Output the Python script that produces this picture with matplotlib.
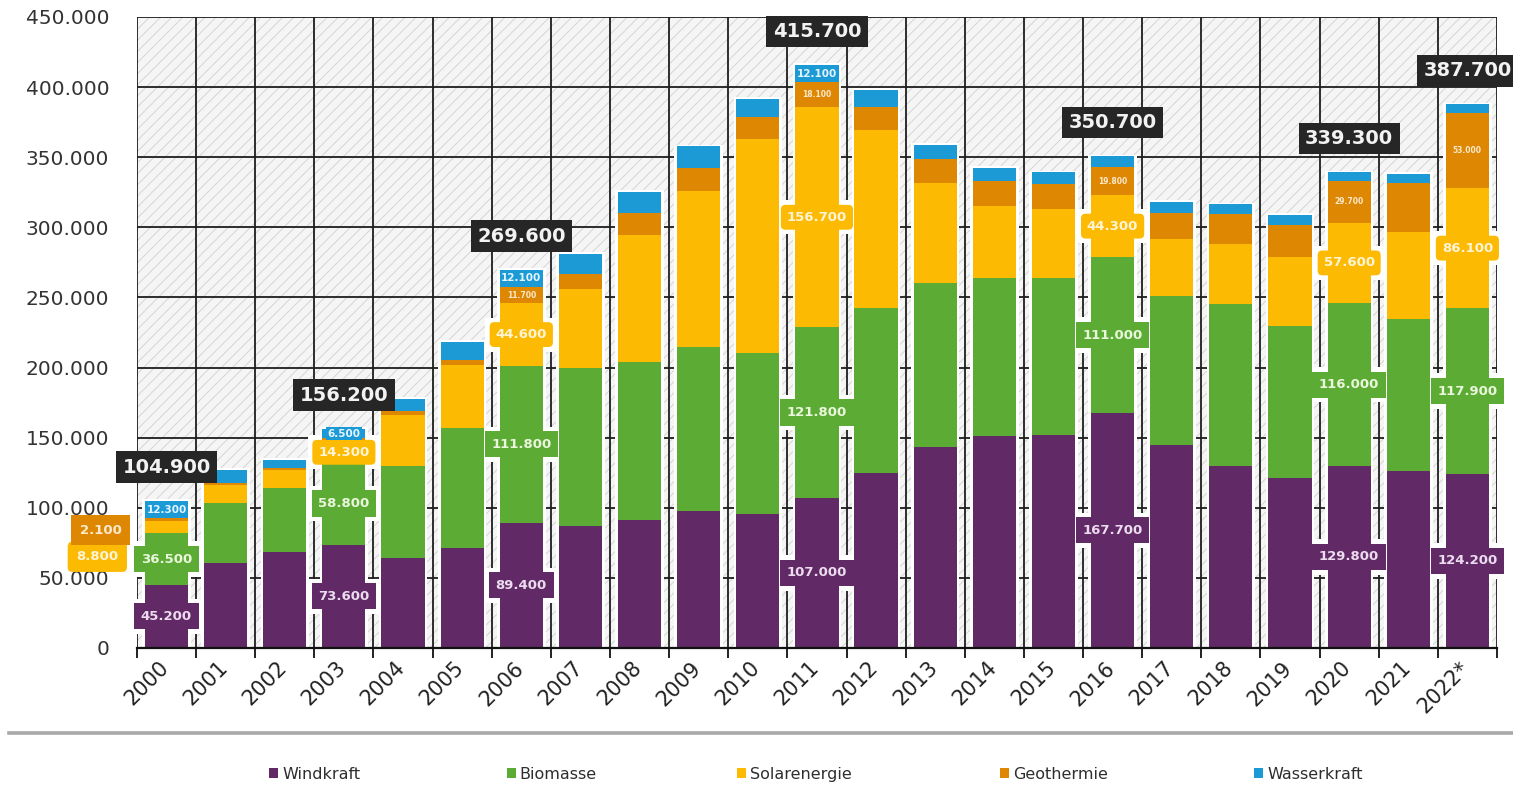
import numpy as np
import matplotlib
matplotlib.use("Agg")
import matplotlib.pyplot as plt
from matplotlib.patches import Patch, Rectangle
from matplotlib.lines import Line2D
from matplotlib.transforms import ScaledTranslation

# Beschäftigte im Bereich erneuerbare Energien, nach Sparten
years = ["2000", "2001", "2002", "2003", "2004", "2005", "2006", "2007", "2008",
         "2009", "2010", "2011", "2012", "2013", "2014", "2015", "2016", "2017",
         "2018", "2019", "2020", "2021", "2022*"]

windkraft = [45200, 60500, 68800, 73600, 64100, 71200, 89400, 86700, 91100,
             97800, 95600, 107000, 125100, 143400, 150900, 152100, 167700, 145000,
             129500, 121200, 129800, 125900, 124200]
biomasse = [36500, 42900, 45300, 58800, 65400, 85700, 111800, 113100, 112800,
            116800, 115000, 121800, 117700, 116800, 113200, 112000, 111000, 105900,
            115500, 108300, 116000, 108400, 117900]
solarenergie = [8800, 12800, 13000, 14300, 36500, 45200, 44600, 55900, 90500,
                111400, 152500, 156700, 126700, 71200, 51100, 48800, 44300, 41000,
                43300, 49600, 57600, 62300, 86100]
geothermie = [2100, 1600, 1500, 3000, 2800, 3600, 11700, 10700, 15500,
              16100, 15300, 18100, 16100, 17500, 17900, 17800, 19800, 18600,
              21000, 22300, 29700, 35300, 53000]
wasserkraft = [12300, 9100, 5700, 6500, 8800, 12400, 12100, 14800, 15600,
               15600, 13400, 12100, 12400, 9900, 9500, 8400, 7900, 7600,
               7100, 7400, 6200, 6000, 6500]

series_names = ["Windkraft", "Biomasse", "Solarenergie", "Geothermie", "Wasserkraft"]
series_values = [windkraft, biomasse, solarenergie, geothermie, wasserkraft]
series_colors = ["#612a66", "#5cab34", "#fcba03", "#de8702", "#1b9ad6"]
label_text_colors = ["#ecdcef", "#eaf7dc", "#fff5d6", "#fde9cc", "#e6f5ff"]

# Years whose segments carry value labels (series indices) and a total box
labelled_segments = {
    0: [0, 1, 2, 3, 4],
    3: [0, 1, 2, 4],
    6: [0, 1, 2, 3, 4],
    11: [0, 1, 2, 3, 4],
    16: [0, 1, 2, 3],
    20: [0, 1, 2, 3],
    22: [0, 1, 2, 3],
}
total_years = [0, 3, 6, 11, 16, 20, 22]

y_ticks = np.arange(0, 450001, 50000)


def de_format(v):
    return f"{int(round(v)):,}".replace(",", ".")


plt.rcParams["font.family"] = ["DejaVu Sans"]
plt.rcParams["hatch.linewidth"] = 0.6
plt.rcParams["hatch.color"] = "#cfcfcf"

fig = plt.figure(figsize=(15.13, 7.86), dpi=100)
ax = fig.add_axes([0.0905, 0.1756, 0.8989, 0.8028])

n = len(years)
x = np.arange(n)
bar_w = 0.73
values = np.array(series_values, dtype=float)
totals = values.sum(axis=0)
bottoms = np.vstack([np.zeros(n), np.cumsum(values, axis=0)[:-1]])

ax.set_xlim(-0.5, n - 0.5)
ax.set_ylim(0, 450000)

# hatched background
ax.set_facecolor("#f5f5f5")
ax.add_patch(Rectangle((0, 0), 1, 1, transform=ax.transAxes, facecolor="none",
                       hatch="///", edgecolor="#d0d0d0", lw=0, zorder=0.1))

# grid
ax.set_axisbelow(True)
ax.set_yticks(y_ticks)
ax.set_yticklabels([de_format(v) for v in y_ticks])
ax.set_xticks(x)
ax.set_xticklabels(years)
ax.set_xticks(np.arange(-0.5, n, 1), minor=True)
ax.grid(axis="y", which="major", color="#1e1e1e", lw=1.3)
ax.grid(axis="x", which="minor", color="#1e1e1e", lw=1.3)
ax.grid(axis="x", which="major", visible=False)

for s in ["left", "right", "top"]:
    ax.spines[s].set_visible(False)
ax.spines["bottom"].set_color("#111111")
ax.spines["bottom"].set_linewidth(1.6)

ax.tick_params(axis="y", length=0, pad=20, labelsize=14.5, labelcolor="#333333")
ax.tick_params(axis="x", which="major", length=0, pad=7, labelsize=15,
               labelcolor="#222222")
ax.tick_params(axis="x", which="minor", length=7, width=1.3, color="#111111",
               direction="out")
shift = ScaledTranslation(-8 / 100, 0, fig.dpi_scale_trans)
for lbl in ax.get_xticklabels():
    lbl.set_rotation(45)
    lbl.set_ha("right")
    lbl.set_va("top")
    lbl.set_rotation_mode("anchor")
    lbl.set_transform(lbl.get_transform() + shift)

# white halo behind each stacked bar
ax.bar(x, totals + 1200, width=bar_w + 0.09, color="white", zorder=1.5, lw=0)

# stacked segments
for i, (name, col) in enumerate(zip(series_names, series_colors)):
    ax.bar(x, values[i], bottom=bottoms[i], width=bar_w, color=col, lw=0,
           zorder=2, label=name)

# segment value labels
label_size = [9.5, 9.5, 9.5, 5.5, 7.5]
box_pad = [0.5, 0.5, 0.45, 0.25, 0.15]
for yi, segs in labelled_segments.items():
    for si in segs:
        v = values[si, yi]
        xc = x[yi]
        yc = bottoms[si, yi] + v / 2
        outside = False
        if yi == 0 and si == 2:
            xc, yc, outside = -1.17, 65000, True
        if yi == 0 and si == 3:
            xc, yc, outside = -1.11, 84000, True
        fs = label_size[si]
        pad = box_pad[si]
        if outside:
            fs, pad = 9.5, 0.65
        shape = "round,pad=%.2f,rounding_size=0.35" if si == 2 else "square,pad=%.2f"
        if si in (0, 1, 2) and not outside:
            # white clearing behind the label, hidden where the bar covers it
            ax.text(xc, yc, de_format(v), ha="center", va="center", fontsize=fs,
                    fontweight="bold", color=(0, 0, 0, 0), zorder=1.7,
                    bbox=dict(boxstyle="square,pad=%.2f" % (pad + 0.35),
                              facecolor="white", edgecolor="none"))
        ax.text(xc, yc, de_format(v), ha="center", va="center", fontsize=fs,
                fontweight="bold", color=label_text_colors[si], zorder=4,
                bbox=dict(boxstyle=shape % pad, facecolor=series_colors[si],
                          edgecolor="none"))

# total boxes
for yi in total_years:
    ax.text(x[yi], totals[yi] + 24000, de_format(totals[yi]), ha="center",
            va="center", fontsize=14, fontweight="bold", color="#f2f2f2", zorder=5,
            bbox=dict(boxstyle="square,pad=0.33", facecolor="#262626",
                      edgecolor="none"))

# separator line above the legend
fig.add_artist(Line2D([0.006, 1.0], [0.0674, 0.0674], transform=fig.transFigure,
                      color="#a8a8a8", lw=2.6))

# legend entries on a fixed grid of columns
legend_x = [0.178, 0.335, 0.487, 0.661, 0.829]
for name, col, lx in zip(series_names, series_colors, legend_x):
    fig.legend([Patch(facecolor=col, edgecolor="none")], [name], loc="center left",
               bbox_to_anchor=(lx, 0.015), frameon=False, handlelength=0.55,
               handleheight=0.55, handletextpad=0.25, borderpad=0, borderaxespad=0,
               fontsize=11.5, labelcolor="#2e2e2e")

fig.savefig("out.png", dpi=100)
